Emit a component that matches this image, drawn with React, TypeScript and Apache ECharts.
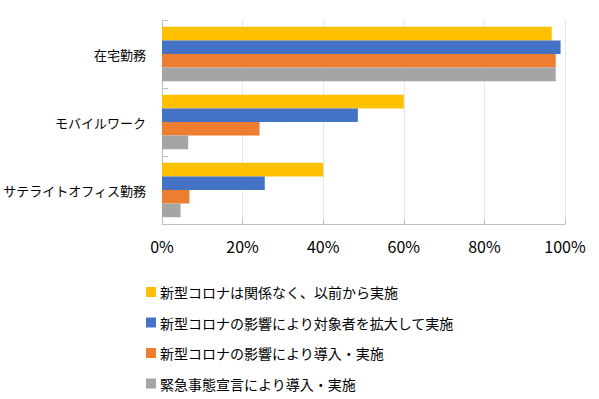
import React, { useEffect, useRef } from "react";
import * as echarts from "echarts";

const categories = ["在宅勤務", "モバイルワーク", "サテライトオフィス勤務"];
const seriesNames = [
  "新型コロナは関係なく、以前から実施",
  "新型コロナの影響により対象者を拡大して実施",
  "新型コロナの影響により導入・実施",
  "緊急事態宣言により導入・実施",
];
const seriesColors = ["#FFC000", "#4472C4", "#ED7D31", "#A5A5A5"];
const values1 = [0.967, 0.6, 0.4];
const values2 = [0.989, 0.486, 0.255];
const values3 = [0.977, 0.242, 0.068];
const values4 = [0.977, 0.065, 0.046];
const allValues = [values1, values2, values3, values4];
const xTicks = [0, 0.2, 0.4, 0.6, 0.8, 1.0];

const FONT = '"Noto Sans CJK JP", "Noto Sans", sans-serif';

export default function App() {
  const ref = useRef<HTMLDivElement>(null);
  useEffect(() => {
    if (!ref.current) return;
    const chart = echarts.init(ref.current, undefined, { renderer: "svg" });
    chart.setOption({
      animation: false,
      textStyle: { fontFamily: FONT },
      grid: { left: 158, right: 34, top: 20, bottom: 175, containLabel: false },
      xAxis: {
        type: "value",
        min: xTicks[0],
        max: xTicks[xTicks.length - 1],
        interval: 0.2,
        axisLine: { show: true, lineStyle: { color: "#BFBFBF", width: 1 } },
        axisTick: { show: true, inside: true, length: 5, lineStyle: { color: "#BFBFBF" } },
        splitLine: { show: true, lineStyle: { color: "#E6E6E6", width: 1 } },
        axisLabel: {
          color: "#000",
          fontSize: 16,
          fontFamily: FONT,
          margin: 14,
          formatter: (v: number) => Math.round(v * 100) + "%",
        },
      },
      yAxis: {
        type: "category",
        data: categories,
        inverse: true,
        axisLine: { show: true, lineStyle: { color: "#BFBFBF", width: 1 } },
        axisTick: { show: true, inside: true, length: 6, lineStyle: { color: "#BFBFBF" } },
        axisLabel: { color: "#000", fontSize: 13, fontFamily: FONT, margin: 16 },
        splitLine: { show: false },
      },
      legend: {
        orient: "vertical",
        left: 141,
        top: 280,
        itemWidth: 10,
        itemHeight: 10,
        itemGap: 16.5,
        icon: "rect",
        textStyle: { color: "#000", fontSize: 14, fontFamily: FONT, lineHeight: 14, padding: [0, 0, 0, -1] },
        data: seriesNames,
      },
      series: seriesNames.map((name, i) => ({
        name,
        type: "bar",
        data: allValues[i],
        barGap: "0%",
        barCategoryGap: "20%",
        itemStyle: { color: seriesColors[i] },
      })),
    });
    return () => chart.dispose();
  }, []);
  return <div ref={ref} style={{ width: 599, height: 399, position: "absolute", left: 0, top: 0 }} />;
}
